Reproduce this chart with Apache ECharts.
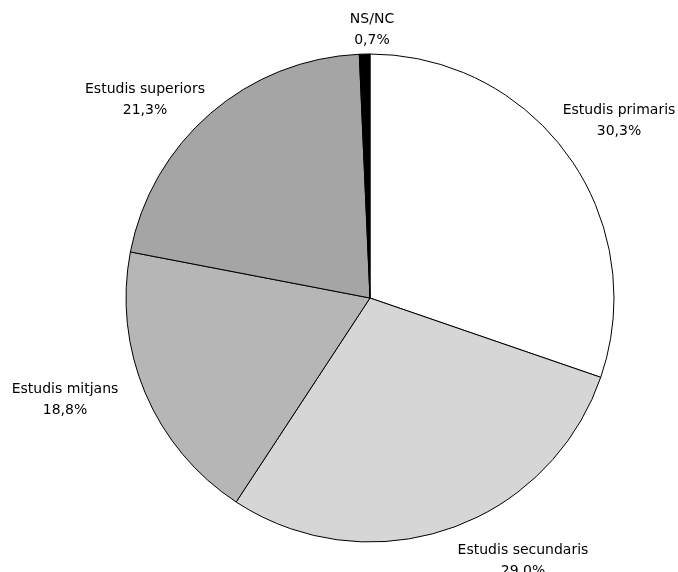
<!DOCTYPE html>
<html><head><meta charset="utf-8">
<script src="https://cdn.jsdelivr.net/npm/echarts@6/dist/echarts.min.js"></script>
<style>html,body{margin:0;padding:0;background:#fff}#c{width:678px;height:572px}</style>
</head><body><div id="c"></div>
<script>
const categories = ["Estudis primaris", "Estudis secundaris", "Estudis mitjans", "Estudis superiors", "NS/NC"];
const values = [30.3, 29.0, 18.8, 21.3, 0.7];
const sliceColors = ["#ffffff", "#d6d6d6", "#b6b6b6", "#a5a5a5", "#000000"];
// label anchor centres (layout only)
const labelPos = [[619, 121], [523, 561], [65, 400], [145, 100], [372, 30]];

const chart = echarts.init(document.getElementById('c'), null, {renderer: 'canvas'});
chart.setOption({
  animation: false,
  series: [{
    type: 'pie',
    center: [370, 298],
    radius: 244,
    startAngle: 90,
    clockwise: true,
    avoidLabelOverlap: false,
    data: categories.map((n, i) => ({name: n, value: values[i], itemStyle: {color: sliceColors[i]}})),
    itemStyle: {borderColor: '#000', borderWidth: 1},
    label: {
      show: true,
      position: 'outside',
      formatter: p => p.name + '\n' + p.value.toFixed(1).replace('.', ',') + '%',
      fontFamily: 'DejaVu Sans',
      fontSize: 14,
      lineHeight: 21,
      color: '#000',
      align: 'center'
    },
    labelLine: {show: false},
    labelLayout: p => ({x: labelPos[p.dataIndex][0], y: labelPos[p.dataIndex][1], align: 'center', verticalAlign: 'middle'}),
    emphasis: {disabled: true}
  }]
});
</script></body></html>
